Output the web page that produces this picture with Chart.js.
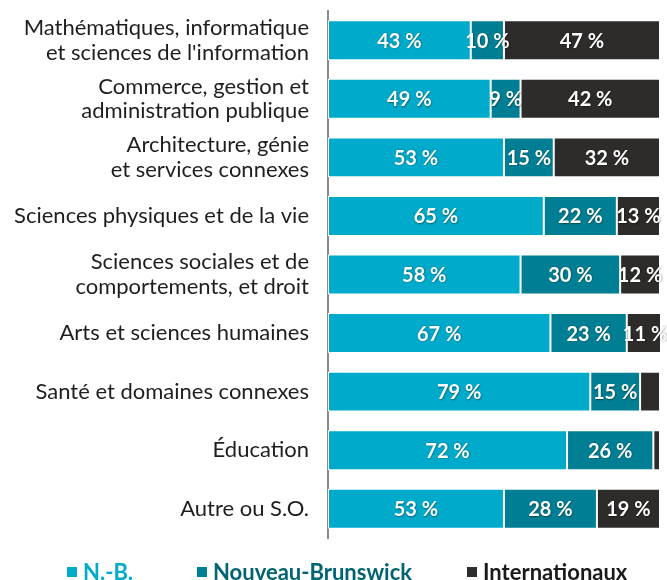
<!DOCTYPE html>
<html><head><meta charset="utf-8">
<script src="https://cdn.jsdelivr.net/npm/chart.js@4"></script>
<style>html,body{margin:0;padding:0;background:#fff}#wrap{width:667px;height:580px;position:relative}</style>
</head><body><div id="wrap"><canvas id="c" width="667" height="580"></canvas></div>
<script>
const categories = [
  ["Mathématiques, informatique","et sciences de l'information"],
  ["Commerce, gestion et","administration publique"],
  ["Architecture, génie","et services connexes"],
  "Sciences physiques et de la vie",
  ["Sciences sociales et de","comportements, et droit"],
  "Arts et sciences humaines",
  "Santé et domaines connexes",
  "Éducation",
  "Autre ou S.O."
];
const seriesNames = ["N.-B.", "Nouveau-Brunswick", "Internationaux"];
const nbValues = [43, 49, 53, 65, 58, 67, 79, 72, 53];
const nouveauBrunswickValues = [10, 9, 15, 22, 30, 23, 15, 26, 28];
const internationauxValues = [47, 42, 32, 13, 12, 11, 6, 2, 19];

const colors = ["#00AACB", "#007F94", "#2E2C2A"];
const legendTextColors = ["#00AACB", "#006473", "#1a1a1a"];
const FONT = "Lato, 'Open Sans', sans-serif";

const labelPlugin = {
  id: 'segLabels',
  afterDatasetsDraw(chart) {
    const ctx = chart.ctx;
    ctx.save();
    ctx.font = "bold 20px " + FONT;
    ctx.fillStyle = "#fff";
    ctx.textAlign = "center";
    ctx.textBaseline = "middle";
    ctx.shadowColor = "rgba(0,0,0,0.45)";
    ctx.shadowBlur = 2;
    ctx.shadowOffsetX = 0.5;
    ctx.shadowOffsetY = 0.5;
    chart.data.datasets.forEach((ds, di) => {
      const meta = chart.getDatasetMeta(di);
      meta.data.forEach((el, i) => {
        const v = ds.data[i];
        if (v < 9) return;
        const x = (el.x + el.base) / 2;
        ctx.fillText(v + " %", x, el.y + 1);
      });
    });
    ctx.restore();
  }
};

const legendStarts = [67, 197, 467];
const legendPlugin = {
  id: 'customLegend',
  afterDraw(chart) {
    const ctx = chart.ctx;
    ctx.save();
    ctx.font = "bold 22px " + FONT;
    ctx.textBaseline = "middle";
    ctx.textAlign = "left";
    const y = 572;
    chart.data.datasets.forEach((ds, i) => {
      const x = legendStarts[i];
      ctx.fillStyle = colors[i];
      ctx.fillRect(x, y - 5, 10, 10);
      ctx.fillStyle = legendTextColors[i];
      ctx.fillText(ds.label, x + 16, y + 1);
    });
    ctx.restore();
  }
};

new Chart(document.getElementById('c'), {
  type: 'bar',
  data: {
    labels: categories,
    datasets: [
      { label: seriesNames[0], data: nbValues, backgroundColor: colors[0] },
      { label: seriesNames[1], data: nouveauBrunswickValues, backgroundColor: colors[1] },
      { label: seriesNames[2], data: internationauxValues, backgroundColor: colors[2] }
    ].map(d => Object.assign(d, { borderColor: '#fff', borderWidth: 1, borderSkipped: false, barPercentage: 0.75, categoryPercentage: 0.91 }))
  },
  options: {
    indexAxis: 'y',
    responsive: false,
    animation: false,
    devicePixelRatio: 1,
    layout: { padding: { top: 11, right: 7, left: 0, bottom: 42 } },
    scales: {
      x: { stacked: true, display: false, min: 0, max: 100 },
      y: {
        stacked: true,
        afterFit(scale) { scale.width = 328; scale.paddingTop = 0; scale.paddingBottom = 0; },
        grid: { display: false, drawTicks: false },
        border: { color: '#8a8a8a', width: 2 },
        ticks: { color: '#1e1e1e', font: { family: FONT, size: 22, lineHeight: 1.12 }, padding: 19, autoSkip: false }
      }
    },
    plugins: {
      tooltip: { enabled: false },
      legend: { display: false }
    }
  },
  plugins: [labelPlugin, legendPlugin]
});
</script></body></html>
